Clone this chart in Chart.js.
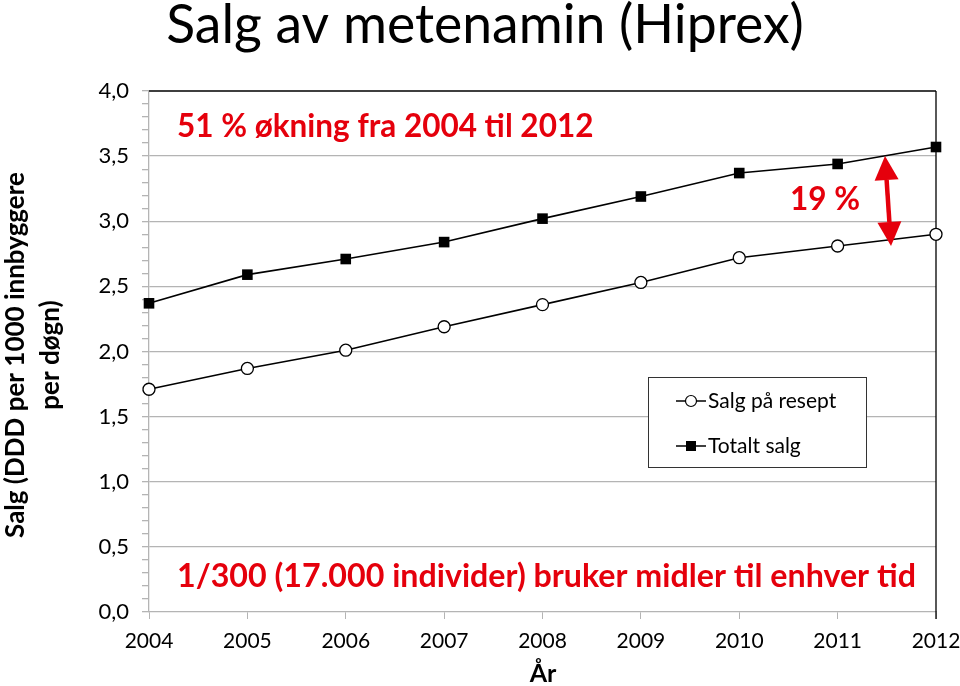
<!DOCTYPE html>
<html>
<head>
<meta charset="utf-8">
<script src="https://cdn.jsdelivr.net/npm/chart.js@4"></script>
<style>
    html, body { margin: 0; padding: 0; background: #fff; }
    #wrap { width: 960px; height: 686px; }
</style>
</head>
<body>
<div id="wrap"><canvas id="salgChart" width="960" height="686"></canvas></div>
<script>
// Data
const years = ['2004', '2005', '2006', '2007', '2008', '2009', '2010', '2011', '2012'];
const reseptValues = [1.71, 1.87, 2.01, 2.19, 2.36, 2.53, 2.72, 2.81, 2.90];
const totalValues = [2.37, 2.59, 2.71, 2.84, 3.02, 3.19, 3.37, 3.44, 3.57];
const seriesLabels = ['Salg på resept', 'Totalt salg'];

const FONT = "Lato, 'Open Sans', sans-serif";
const RED = '#e5000c';
const GRID = '#b4b4b4';

// Titles, annotations, legend and borders drawn on top
const decorPlugin = {
    id: 'decor',
    beforeDatasetsDraw(chart) {
        const { ctx, chartArea: a } = chart;
        ctx.save();
        ctx.strokeStyle = '#000';
        ctx.lineWidth = 1.3;
        ctx.beginPath();
        ctx.moveTo(a.left, a.top);
        ctx.lineTo(a.right, a.top);
        ctx.moveTo(a.right, a.top);
        ctx.lineTo(a.right, a.bottom + 7);
        ctx.stroke();
        ctx.restore();
    },
    afterDraw(chart) {
        const { ctx } = chart;
        ctx.save();

        // main title
        ctx.fillStyle = '#000';
        ctx.textAlign = 'center';
        ctx.textBaseline = 'middle';
        ctx.font = `53.5px ${FONT}`;
        ctx.fillText('Salg av metenamin (Hiprex)', 485, 26);

        // y axis title (two lines, rotated)
        ctx.save();
        ctx.translate(16, 355);
        ctx.rotate(-Math.PI / 2);
        ctx.font = `bold 26px ${FONT}`;
        ctx.fillText('Salg (DDD per 1000 innbyggere', 0, 0);
        ctx.fillText('per døgn)', 0, 35);
        ctx.restore();

        // x axis title
        ctx.font = `bold 25px ${FONT}`;
        ctx.fillText('År', 543, 674);

        // red annotations
        ctx.fillStyle = RED;
        ctx.textAlign = 'left';
        ctx.font = `bold 31.5px ${FONT}`;
        ctx.fillText('51 % økning fra 2004 til 2012', 177, 127);
        ctx.fillText('19 %', 790, 200);
        ctx.font = `bold 32.2px ${FONT}`;
        ctx.fillText('1/300 (17.000 individer) bruker midler til enhver tid', 177, 577);

        // double arrow
        drawDoubleArrow(ctx, 885, 156, 891, 246);

        // legend
        drawLegend(ctx, chart);
        ctx.restore();
    }
};

function drawDoubleArrow(ctx, x1, y1, x2, y2) {
    const ang = Math.atan2(y2 - y1, x2 - x1);
    const headLen = 24;
    const headHalf = 12;
    ctx.strokeStyle = RED;
    ctx.fillStyle = RED;
    ctx.lineWidth = 4.5;
    ctx.beginPath();
    ctx.moveTo(x1 + Math.cos(ang) * headLen, y1 + Math.sin(ang) * headLen);
    ctx.lineTo(x2 - Math.cos(ang) * headLen, y2 - Math.sin(ang) * headLen);
    ctx.stroke();
    [[x1, y1, ang], [x2, y2, ang + Math.PI]].forEach(([x, y, a]) => {
        const bx = x + Math.cos(a) * headLen;
        const by = y + Math.sin(a) * headLen;
        ctx.beginPath();
        ctx.moveTo(x, y);
        ctx.lineTo(bx - Math.sin(a) * headHalf, by + Math.cos(a) * headHalf);
        ctx.lineTo(bx + Math.sin(a) * headHalf, by - Math.cos(a) * headHalf);
        ctx.closePath();
        ctx.fill();
    });
}

function drawLegend(ctx, chart) {
    const box = { x: 648, y: 377, w: 218, h: 90 };
    ctx.fillStyle = '#fff';
    ctx.fillRect(box.x, box.y, box.w, box.h);
    ctx.strokeStyle = '#333';
    ctx.lineWidth = 1;
    ctx.strokeRect(box.x + 0.5, box.y + 0.5, box.w, box.h);

    const rows = [401, 446];
    chart.data.datasets.forEach((ds, i) => {
        const y = rows[i];
        ctx.strokeStyle = '#000';
        ctx.lineWidth = 1.5;
        ctx.beginPath();
        ctx.moveTo(676, y);
        ctx.lineTo(706, y);
        ctx.stroke();
        if (ds.pointStyle === 'rect') {
            ctx.fillStyle = '#000';
            ctx.fillRect(686, y - 5, 10, 10);
        } else {
            ctx.fillStyle = '#fff';
            ctx.beginPath();
            ctx.arc(691, y, 5.5, 0, Math.PI * 2);
            ctx.fill();
            ctx.lineWidth = 1.2;
            ctx.stroke();
        }
        ctx.fillStyle = '#000';
        ctx.font = `21px ${FONT}`;
        ctx.textAlign = 'left';
        ctx.textBaseline = 'middle';
        ctx.fillText(ds.label, 708, y);
    });
}

function isMajor(v) {
    return Math.round(v * 10) % 5 === 0;
}

const ctx = document.getElementById('salgChart');
new Chart(ctx.getContext('2d'), {
    type: 'line',
    data: {
        labels: years,
        datasets: [
            {
                label: seriesLabels[0],
                data: reseptValues,
                borderColor: '#000',
                borderWidth: 1.6,
                pointStyle: 'circle',
                pointRadius: 6,
                pointBorderWidth: 1.3,
                pointBackgroundColor: '#fff',
                pointBorderColor: '#000',
                tension: 0,
                clip: false,
            },
            {
                label: seriesLabels[1],
                data: totalValues,
                borderColor: '#000',
                borderWidth: 1.6,
                pointStyle: 'rect',
                pointRadius: 7.5,
                pointBorderWidth: 0,
                pointBackgroundColor: '#000',
                pointBorderColor: '#000',
                tension: 0,
                clip: false,
            },
        ],
    },
    options: {
        responsive: false,
        animation: false,
        layout: {
            padding: { top: 91, right: 24, left: 0, bottom: 0 },
        },
        plugins: {
            legend: { display: false },
            title: { display: false },
            tooltip: { enabled: false },
        },
        scales: {
            x: {
                offset: false,
                afterFit: (scale) => {
                    scale.height = 74;
                    scale.paddingLeft = 0;
                    scale.paddingRight = 0;
                },
                grid: {
                    drawOnChartArea: false,
                    tickLength: 7,
                    color: GRID,
                },
                border: { color: GRID, width: 1.3 },
                ticks: {
                    color: '#000',
                    font: { family: FONT, size: 21 },
                    padding: 10,
                    maxRotation: 0,
                    autoSkip: false,
                },
            },
            y: {
                min: 0,
                max: 4,
                afterFit: (scale) => { scale.width = 149; },
                grid: {
                    color: (c) => (c.tick && isMajor(c.tick.value) && c.tick.value > 0 && c.tick.value < 4 ? GRID : 'rgba(0,0,0,0)'),
                    tickColor: GRID,
                    tickLength: 7,
                    lineWidth: 1.3,
                },
                border: { color: GRID, width: 1.3 },
                ticks: {
                    stepSize: 0.1,
                    maxTicksLimit: 100,
                    autoSkip: false,
                    color: '#000',
                    padding: 13,
                    font: { family: FONT, size: 22 },
                    callback: (v) => (isMajor(v) ? v.toFixed(1).replace('.', ',') : ''),
                },
            },
        },
    },
    plugins: [decorPlugin],
});
</script>
</body>
</html>
